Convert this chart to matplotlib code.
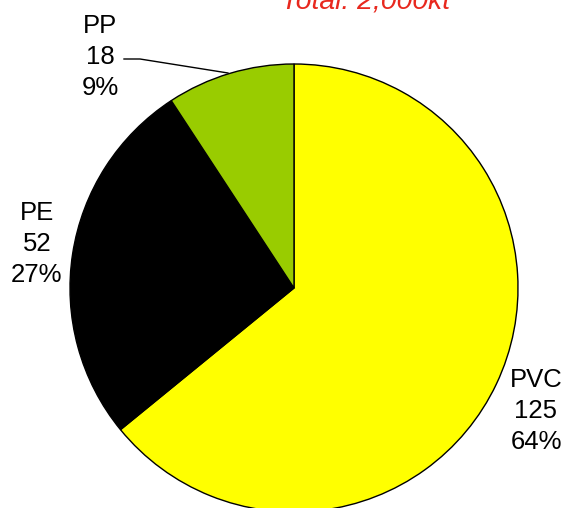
import matplotlib
matplotlib.use("Agg")
import matplotlib.pyplot as plt
import numpy as np

categories = ["PVC", "PE", "PP"]
values = [125, 52, 18]
percents = ["64%", "27%", "9%"]
colors = ["#ffff00", "#000000", "#99cc00"]
title = "Total: 2,000kt"

plt.rcParams['font.family'] = ['Liberation Sans', 'DejaVu Sans']

W, H = 566, 508
cx, cy, R = 294, 288, 224
fig = plt.figure(figsize=(W / 100, H / 100), dpi=100)
ax = fig.add_axes([0, 0, 1, 1])
ax.pie(values, colors=colors, startangle=90, counterclock=False,
       wedgeprops=dict(edgecolor="black", linewidth=1.0))
ax.set_xlim(-cx / R, (W - cx) / R)
ax.set_ylim(-(H - cy) / R, cy / R)
ax.set_aspect("equal")
ax.axis("off")

def d(px, py):
    return (px - cx) / R, (cy - py) / R

label_pos = [d(536, 411), d(37, 244), d(100, 57)]
for cat, v, p, pos in zip(categories, values, percents, label_pos):
    ax.text(pos[0], pos[1], f"{cat}\n{v}\n{p}", ha="center", va="center",
            fontsize=18.5, linespacing=1.38, color="black")

# leader line for PP
pts = [d(124, 59), d(140, 59), d(228, 73)]
ax.plot([p[0] for p in pts], [p[1] for p in pts], color="black", lw=1.0)

tx, ty = d(366, 9)
ax.text(tx, ty, title, ha="center", va="baseline", fontsize=20.4,
        style="italic", color="#e8281e")

fig.savefig("out.png", dpi=100)
